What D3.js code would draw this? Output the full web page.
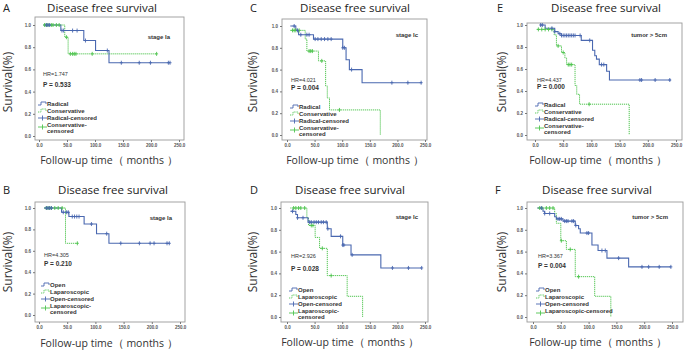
<!DOCTYPE html>
<html>
<head>
<meta charset="utf-8">
<script src="https://cdn.jsdelivr.net/npm/d3@7"></script>
<style>
  body { margin: 0; background: #fff; }
  svg { display: block; }
</style>
</head>
<body>
<div id="chart"></div>
<script>
// step points [months, survival]; each value holds until the next point
let aRadical = [[8,1],[39,0.95],[80,0.86],[101,0.77],[125,0.66],[234,0.66]];
let aRadicalCens = [13,16,19,41,44,60,68,83,122,147,179,199,231,234];
let aConserv = [[8,1],[46,0.89],[52,0.74],[210,0.74]];
let aConservCens = [10,13,16,22,25,31,36,49,56,60,63,66,95,210];

let bOpen = [[9,1],[40,0.96],[53,0.92],[80,0.85],[102,0.76],[124,0.67],[231,0.67]];
let bOpenCens = [13,16,19,22,43,49,52,59,63,67,71,93,120,145,178,197,204,227,231];
let bLap = [[9,1],[47,0.67],[68,0.67]];
let bLapCens = [13,16,19,22,28,34,41,68];

let cRadical = [[6,1],[16,0.96],[21,0.92],[48,0.88],[101,0.80],[107,0.69],[113,0.60],[136,0.48],[244,0.48]];
let cRadicalCens = [13,19,25,36,40,51,56,62,68,74,80,101,104,117,190,219,243];
let cConserv = [[6,0.96],[33,0.88],[36,0.77],[57,0.68],[70,0.45],[73,0.34],[77,0.23],[169,0]];
let cConservCens = [10,13,16,22,40,43,46,63,95];

let dOpen = [[6,0.97],[16,0.94],[19,0.91],[38,0.87],[73,0.81],[80,0.74],[101,0.66],[116,0.57],[170,0.45],[244,0.45]];
let dOpenCens = [10,19,29,41,44,49,53,57,62,66,71,74,97,101,103,118,191,220,244];
let dLap = [[6,1],[36,0.91],[39,0.84],[51,0.73],[59,0.63],[73,0.38],[109,0.19],[137,0]];
let dLapCens = [12,16,21,25,32,44,47,64,80];

let eRadical = [[9,1],[18,0.97],[35,0.94],[41,0.92],[47,0.905],[82,0.86],[102,0.77],[106,0.72],[109,0.69],[114,0.64],[127,0.58],[132,0.50],[241,0.50]];
let eRadicalCens = [10,13,30,35,44,47,50,53,56,59,62,65,68,71,80,97,118,122,186,189,213,239];
let eConserv = [[3,0.96],[34,0.91],[38,0.81],[47,0.75],[53,0.70],[56,0.64],[71,0.45],[74,0.37],[79,0.28],[167,0]];
let eConservCens = [6,12,18,24,30,41,50,59,62,65,96];

let fOpen = [[8,1],[18,0.97],[21,0.95],[39,0.92],[42,0.90],[54,0.88],[76,0.84],[82,0.81],[85,0.77],[106,0.66],[117,0.61],[133,0.54],[172,0.46],[248,0.46]];
let fOpenCens = [15,21,30,45,48,51,57,60,63,70,73,77,97,100,124,130,154,196,208,227,248];
let fLap = [[8,1],[39,0.95],[42,0.86],[50,0.70],[60,0.62],[76,0.37],[111,0.19],[140,0]];
let fLapCens = [12,16,24,30,36,51,67,82];

let xTicks = [0, 50, 100, 150, 200, 250];
let yTicks = [0, 0.2, 0.4, 0.6, 0.8, 1.0];

let letters = ["A", "B", "C", "D", "E", "F"];
let subLabels = ["stage Ia", "stage Ia", "stage Ic", "stage Ic", "tumor > 5cm", "tumor > 5cm"];
let hrLabels = ["HR=1.747", "HR=4.305", "HR=4.021", "HR=2.926", "HR=4.437", "HR=3.367"];
let pLabels = ["P = 0.533", "P = 0.210", "P = 0.004", "P = 0.028", "P = 0.000", "P = 0.004"];
let legendRadical = ["Radical", "Conservative", "Radical-censored", ["Conservative-", "censored"]];
let legendOpen = ["Open", "Laparoscopic", "Open-censored", ["Laparoscopic-", "censored"]];
let legendOpenF = ["Open", "Laparoscopic", "Open-censored", ["Laparoscopic-censored"]];

let w = 685, h = 351;
let blue = "#4a68b0", green = "#4fc44f";

// layout for each panel: frame box, axis ranges, text spots
let panels = [
  { a: aRadical, ac: aRadicalCens, b: aConserv, bc: aConservCens, leg: legendRadical,
    box: [35,184,17,140], xr: [39,179], yr: [136,25], letter: [3,12], title: [102,12],
    xt: [109,164], yt: [8,82], sub: [170,39], hr: [43,76], p: [43,87], lg: [38,104] },
  { a: bOpen, ac: bOpenCens, b: bLap, bc: bLapCens, leg: legendOpen,
    box: [35,185,202,322], xr: [39,180], yr: [315,208], letter: [3,194], title: [113,194],
    xt: [109,347], yt: [8,262], sub: [172,220], hr: [44,257], p: [44,266], lg: [41,285] },
  { a: cRadical, ac: cRadicalCens, b: cConserv, bc: cConservCens, leg: legendRadical,
    box: [282,427,19,140], xr: [287,425], yr: [135,26], letter: [250,12], title: [355,12],
    xt: [355,164], yt: [253,82], sub: [418,37], hr: [291,82], p: [291,90], lg: [290,107] },
  { a: dOpen, ac: dOpenCens, b: dLap, bc: dLapCens, leg: legendOpen,
    box: [281,428,202,322], xr: [287,425], yr: [317,208], letter: [250,194], title: [350,194],
    xt: [350,346], yt: [253,262], sub: [418,219], hr: [291,258], p: [291,271], lg: [289,290] },
  { a: eRadical, ac: eRadicalCens, b: eConserv, bc: eConservCens, leg: legendRadical,
    box: [527,682,23,140], xr: [535,676], yr: [135,25], letter: [497,12], title: [606,12],
    xt: [598,164], yt: [502,82], sub: [667,37], hr: [537,82], p: [537,89], lg: [535,105] },
  { a: fOpen, ac: fOpenCens, b: fLap, bc: fLapCens, leg: legendOpenF,
    box: [527,683,202,322], xr: [533,672], yr: [317,208], letter: [495,194], title: [597,194],
    xt: [598,346], yt: [502,262], sub: [668,219], hr: [538,258], p: [538,268], lg: [536,290] }
];

let svg = d3.select("#chart")
  .append("svg")
  .attr("width", w)
  .attr("height", h)
  .style("background-color", "#fff");

function survAt(steps, t) {
  let s = steps[0][1];
  steps.forEach(d => { if (d[0] <= t) s = d[1]; });
  return s;
}

panels.forEach((p, i) => {
  let g = svg.append("g");
  let x = d3.scaleLinear().domain([0, 250]).range(p.xr);
  let y = d3.scaleLinear().domain([0, 1]).range(p.yr);

  g.append("text").attr("x", p.letter[0]).attr("y", p.letter[1])
    .text(letters[i]).style("font-family", "Open Sans").style("font-size", "11px").style("fill", "#222");

  g.append("text").attr("x", p.title[0]).attr("y", p.title[1]).attr("text-anchor", "middle")
    .text("Disease free survival").style("font-family", "Open Sans").style("font-size", "11.5px").style("fill", "#222");

  g.append("rect")
    .attr("x", p.box[0]).attr("y", p.box[2])
    .attr("width", p.box[1] - p.box[0]).attr("height", p.box[3] - p.box[2])
    .attr("fill", "none").attr("stroke", "#9a9a9a").attr("stroke-width", 0.9);

  let xAxis = g.append("g")
    .attr("transform", "translate(0," + p.box[3] + ")")
    .call(d3.axisBottom(x).tickValues(xTicks).tickFormat(d3.format(".1f")).tickSize(2).tickPadding(2));
  let yAxis = g.append("g")
    .attr("transform", "translate(" + p.box[0] + ",0)")
    .call(d3.axisLeft(y).tickValues(yTicks).tickFormat(d3.format(".1f")).tickSize(2).tickPadding(2));
  [xAxis, yAxis].forEach(ax => {
    ax.select(".domain").remove();
    ax.selectAll("line").attr("stroke", "#777");
    ax.selectAll("text").style("font-family", "Liberation Sans").style("font-size", "4.5px")
      .style("font-weight", "bold").style("fill", "#555");
  });

  g.append("text").attr("x", p.xt[0]).attr("y", p.xt[1]).attr("text-anchor", "middle")
    .text("Follow-up time（  months ）").style("font-family", "Open Sans").style("font-size", "10.5px").style("fill", "#333");

  g.append("text").attr("transform", "translate(" + p.yt[0] + "," + p.yt[1] + ") rotate(-90)")
    .attr("text-anchor", "middle").attr("dy", "0.35em")
    .text("Survival(%)").style("font-family", "Open Sans").style("font-size", "12px").style("fill", "#333");

  let line = d3.line().x(d => x(d[0])).y(d => y(d[1])).curve(d3.curveStepAfter);

  g.append("path").datum(p.b).attr("d", line).attr("fill", "none")
    .attr("stroke", green).attr("stroke-width", 1).attr("stroke-dasharray", "1.2,0.8");
  g.append("path").datum(p.a).attr("d", line).attr("fill", "none")
    .attr("stroke", blue).attr("stroke-width", 1.1);

  function cens(times, steps, col) {
    times.forEach(t => {
      let cx = x(t), cy = y(survAt(steps, t));
      g.append("line").attr("x1", cx).attr("x2", cx).attr("y1", cy - 2).attr("y2", cy + 2)
        .attr("stroke", col).attr("stroke-width", 0.9);
      g.append("line").attr("x1", cx - 1.5).attr("x2", cx + 1.5).attr("y1", cy).attr("y2", cy)
        .attr("stroke", col).attr("stroke-width", 0.9);
    });
  }
  cens(p.bc, p.b, green);
  cens(p.ac, p.a, blue);

  let txt = (xy, s, size, bold, anchor) => g.append("text").attr("x", xy[0]).attr("y", xy[1])
    .attr("text-anchor", anchor || "start").text(s)
    .style("font-family", "Liberation Sans").style("font-size", size)
    .style("font-weight", bold ? "bold" : "normal").style("fill", "#333");

  txt(p.sub, subLabels[i], "6px", true, "end");
  txt(p.hr, hrLabels[i], "5.5px", false);
  txt(p.p, pLabels[i], "6.5px", true);

  // legend
  let lx = p.lg[0], ly = p.lg[1];
  let rows = [ly, ly + 7, ly + 14, ly + 21];
  g.append("path").attr("d", "M" + lx + "," + (rows[0] + 1) + "h3v-3h5v2")
    .attr("fill", "none").attr("stroke", blue).attr("stroke-width", 0.9);
  g.append("path").attr("d", "M" + lx + "," + (rows[1] + 1) + "h3v-3h5v2")
    .attr("fill", "none").attr("stroke", green).attr("stroke-width", 0.9).attr("stroke-dasharray", "1,0.7");
  [[rows[2], blue], [rows[3] + 2, green]].forEach(r => {
    g.append("line").attr("x1", lx).attr("x2", lx + 9).attr("y1", r[0]).attr("y2", r[0])
      .attr("stroke", r[1]).attr("stroke-width", 0.9);
    g.append("line").attr("x1", lx + 4.5).attr("x2", lx + 4.5).attr("y1", r[0] - 2.5).attr("y2", r[0] + 2.5)
      .attr("stroke", r[1]).attr("stroke-width", 0.9);
  });
  p.leg.forEach((s, k) => {
    let lines = Array.isArray(s) ? s : [s];
    lines.forEach((ln, j) => {
      txt([lx + 9, rows[k] + 2 + j * 6], ln, "6px", true);
    });
  });
});
</script>
</body>
</html>
